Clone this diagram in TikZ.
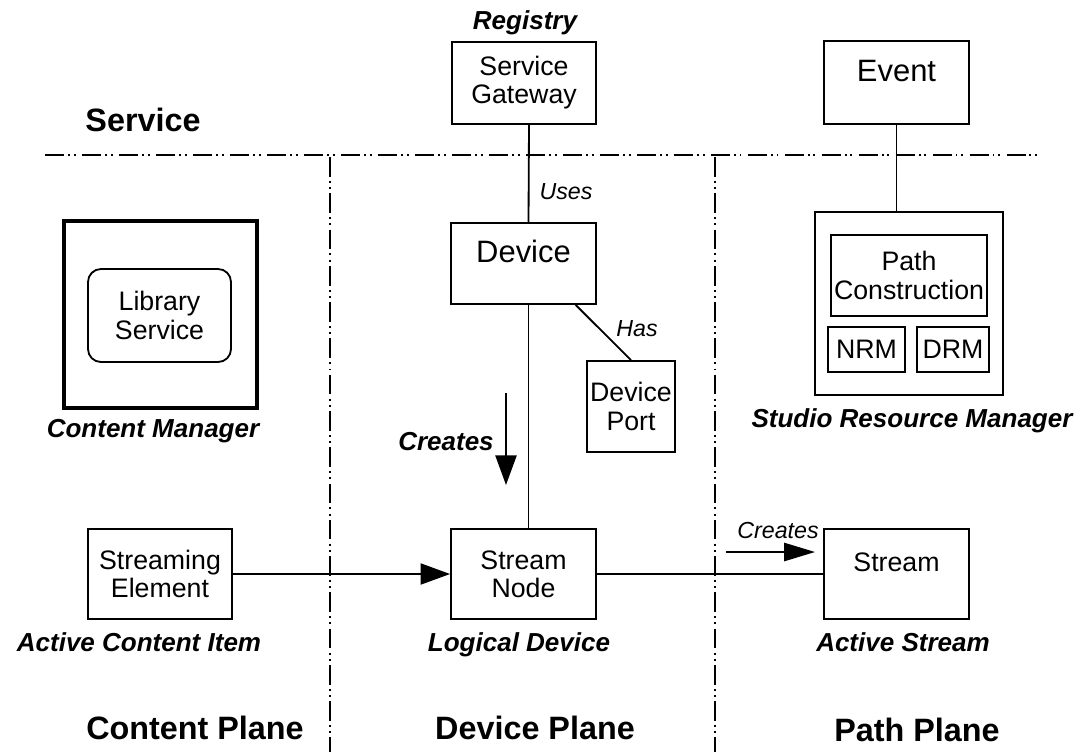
\documentclass[tikz,border=0pt]{standalone}
\usepackage{fontspec}
\setmainfont{Liberation Sans}
\usetikzlibrary{arrows.meta,calc}

\begin{document}
\begin{tikzpicture}[
  x=0.025cm, y=-0.025cm,
  box/.style={draw=black, line width=1.3pt, inner sep=0pt, align=center, font=\fontsize{19}{20}\selectfont},
  topbox/.style={box, text height=13.6pt, text depth=17pt},
  bigbox/.style={box, font=\fontsize{22}{24}\selectfont, text height=15.8pt, text depth=17pt},
  lbl/.style={inner sep=0pt, font=\fontsize{18.5}{20}\selectfont\bfseries\itshape, text height=13pt, text depth=0pt},
  rel/.style={inner sep=0pt, font=\fontsize{16.5}{18}\selectfont\itshape, text height=12pt, text depth=0pt},
  plane/.style={inner sep=0pt, font=\fontsize{23}{25}\selectfont\bfseries, text height=16.5pt, text depth=0pt},
  conn/.style={line width=1.3pt},
  flow/.style={conn, -{Triangle[length=21pt,width=15pt]}},
  hdiv/.style={line width=1.4pt, dash pattern=on 13.5pt off 2.8pt on 1.4pt off 2.8pt on 1.4pt off 4.4pt},
  vdiv/.style={line width=1.4pt, dash pattern=on 14pt off 3pt on 1.4pt off 3pt on 1.4pt off 3pt}
]
  \useasboundingbox (0,0) rectangle (1085,752);

  % plane dividers
  \draw[hdiv] (45,155) -- (1040,155);
  \draw[vdiv] (330,157) -- (330,752);
  \draw[vdiv] (715,157) -- (715,752);

  % service layer
  \node[plane] (service) at (143,120) {Service};
  \node[box, minimum width=3.6cm, minimum height=2.05cm] (gw) at (524,83) {Service\\Gateway};
  \node[lbl] (registry) at (525,20) {Registry};
  \node[bigbox, minimum width=3.625cm, minimum height=2.075cm] (ev) at (896.5,82.5) {Event};

  % content plane
  \node[draw=black, line width=2.8pt, minimum width=4.825cm, minimum height=4.675cm] (cm) at (160.5,314.5) {};
  \node[box, rounded corners=3.25mm, minimum width=3.575cm, minimum height=2.325cm] (lib) at (159.5,315.5) {Library\\Service};
  \node[lbl] (cmlbl) at (153,428) {Content Manager};
  \node[box, minimum width=3.6cm, minimum height=2.25cm] (se) at (160,574) {Streaming\\Element};
  \node[lbl] (acilbl) at (139,642) {Active Content Item};
  \node[plane] (cplane) at (195,728) {Content Plane};

  % device plane
  \node[bigbox, minimum width=3.625cm, minimum height=2.025cm] (dev) at (523.5,263.5) {Device};
  \node[box, inner sep=1pt, minimum width=2.2cm, minimum height=2.275cm] (port) at (631,406.5) {Device\\Port};
  \node[box, minimum width=3.625cm, minimum height=2.25cm] (sn) at (523.5,574) {Stream\\Node};
  \node[lbl] (ldlbl) at (519,642) {Logical Device};
  \node[plane] (dplane) at (535,728) {Device Plane};
  \node[rel] (uses) at (566,191) {Uses};
  \node[rel] (has) at (637,328) {Has};
  \node[lbl] (creates) at (446,441) {Creates};
  \coordinate (cr1) at (506,393);
  \coordinate (cr2) at (506,485);

  % path plane
  \node[draw=black, line width=1.8pt, minimum width=4.7cm, minimum height=4.575cm] (srm) at (909,303.5) {};
  \node[box, minimum width=3.9cm, minimum height=2.025cm] (pc) at (909,275.5) {Path\\Construction};
  \node[box, minimum width=1.925cm, minimum height=1.125cm] (nrm) at (866.5,349.5) {NRM};
  \node[box, minimum width=1.8cm, minimum height=1.125cm] (drm) at (953,349.5) {DRM};
  \node[lbl] (srmlbl) at (912,418) {Studio Resource Manager};
  \node[topbox, minimum width=3.625cm, minimum height=2.25cm] (st) at (896.5,574) {Stream};
  \node[lbl] (aslbl) at (903,642) {Active Stream};
  \node[plane] (pplane) at (917,730) {Path Plane};
  \node[rel] (creates2) at (778,530) {Creates};
  \coordinate (cr3) at (726,552);
  \coordinate (cr4) at (815,552);

  % connectors
  \draw[conn] ($(gw.south)+(5,0)$) -- ($(dev.north)+(5,0)$);
  \draw[conn] ($(dev.south)+(5,0)$) -- ($(sn.north)+(5,0)$);
  \draw[conn] ($(dev.south west)!0.855!(dev.south east)$) -- (port.north);
  \draw[conn] (ev.south) -- (ev.south |- srm.north);
  \draw[flow] (se) -- (sn);
  \draw[conn] (sn) -- (st);
  \draw[flow] (cr1) -- (cr2);
  \draw[conn, -{Triangle[length=22pt,width=13pt]}] (cr3) -- (cr4);
\end{tikzpicture}
\end{document}
